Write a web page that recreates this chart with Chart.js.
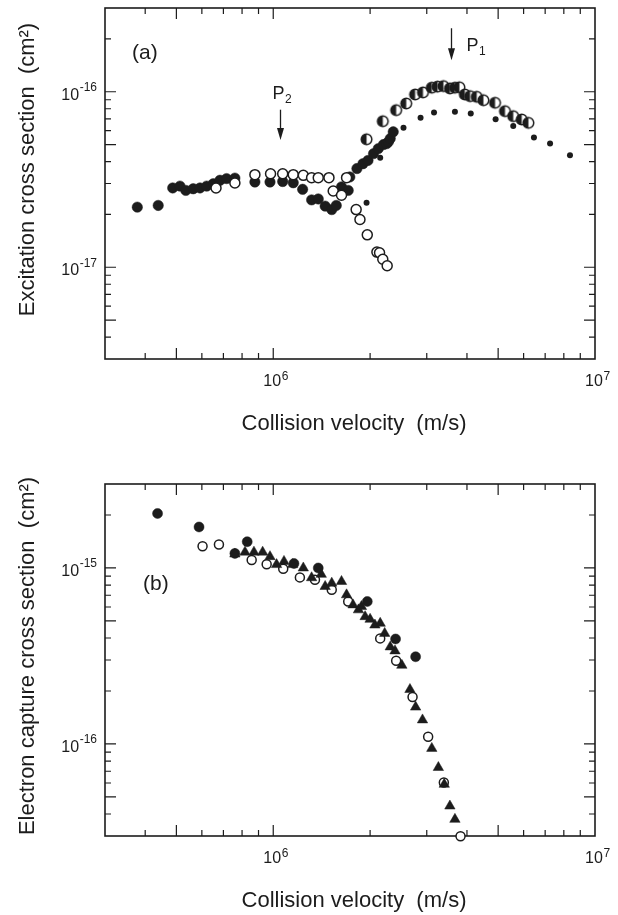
<!DOCTYPE html>
<html>
<head>
<meta charset="utf-8">
<script src="https://cdn.jsdelivr.net/npm/chart.js@4.4.1/dist/chart.umd.min.js"></script>
<style>
  html, body { margin: 0; padding: 0; background: #fff; }
  #wrap { position: relative; width: 618px; height: 915px; }
  .panel { position: absolute; left: 0; }
</style>
</head>
<body>
<div id="wrap">
  <div class="panel" style="top:0"><canvas id="chartA" width="618" height="450"></canvas></div>
  <div class="panel" style="top:450px"><canvas id="chartB" width="618" height="465"></canvas></div>
</div>
<script>
// panel (a): excitation cross section vs collision velocity
var velAFilled = [3.78e5, 4.39e5, 4.87e5, 5.13e5, 5.35e5, 5.64e5, 5.92e5, 6.21e5, 6.51e5, 6.83e5, 7.16e5, 7.60e5,
  8.77e5, 9.77e5, 1.07e6, 1.154e6, 1.234e6, 1.316e6, 1.38e6, 1.45e6, 1.52e6, 1.57e6, 1.63e6, 1.71e6, 1.73e6,
  1.82e6, 1.90e6, 1.97e6, 2.05e6, 2.12e6, 2.20e6, 2.25e6, 2.28e6, 2.31e6, 2.36e6];
var sigAFilled = [2.20e-17, 2.25e-17, 2.83e-17, 2.90e-17, 2.74e-17, 2.80e-17, 2.83e-17, 2.90e-17, 2.99e-17, 3.13e-17, 3.20e-17, 3.22e-17,
  3.06e-17, 3.06e-17, 3.08e-17, 3.03e-17, 2.78e-17, 2.42e-17, 2.45e-17, 2.23e-17, 2.13e-17, 2.25e-17, 2.87e-17, 2.74e-17, 3.27e-17,
  3.65e-17, 3.89e-17, 4.06e-17, 4.44e-17, 4.74e-17, 5.00e-17, 5.06e-17, 5.18e-17, 5.41e-17, 5.91e-17];

var velAOpen = [6.64e5, 7.60e5, 8.77e5, 9.81e5, 1.07e6, 1.154e6, 1.24e6, 1.316e6, 1.38e6, 1.49e6, 1.536e6, 1.63e6,
  1.69e6, 1.81e6, 1.86e6, 1.96e6, 2.10e6, 2.14e6, 2.19e6, 2.26e6];
var sigAOpen = [2.83e-17, 3.02e-17, 3.37e-17, 3.41e-17, 3.41e-17, 3.37e-17, 3.34e-17, 3.24e-17, 3.24e-17, 3.24e-17, 2.72e-17, 2.57e-17,
  3.24e-17, 2.13e-17, 1.87e-17, 1.53e-17, 1.22e-17, 1.21e-17, 1.11e-17, 1.02e-17];

var velAHalf = [1.95e6, 2.19e6, 2.41e6, 2.59e6, 2.76e6, 2.92e6, 3.11e6, 3.24e6, 3.38e6, 3.54e6, 3.67e6, 3.79e6,
  3.94e6, 4.09e6, 4.29e6, 4.50e6, 4.89e6, 5.25e6, 5.57e6, 5.92e6, 6.21e6];
var sigAHalf = [5.36e-17, 6.79e-17, 7.85e-17, 8.57e-17, 9.65e-17, 9.91e-17, 1.055e-16, 1.07e-16, 1.077e-16, 1.045e-16, 1.055e-16, 1.06e-16,
  9.65e-17, 9.44e-17, 9.36e-17, 8.95e-17, 8.65e-17, 7.75e-17, 7.26e-17, 6.95e-17, 6.65e-17];

var velADot = [1.95e6, 2.15e6, 2.54e6, 2.87e6, 3.16e6, 3.67e6, 4.11e6, 4.91e6, 5.57e6, 6.46e6, 7.25e6, 8.36e6];
var sigADot = [2.33e-17, 4.20e-17, 6.23e-17, 7.10e-17, 7.62e-17, 7.69e-17, 7.52e-17, 6.97e-17, 6.37e-17, 5.48e-17, 5.07e-17, 4.35e-17];

// peak markers P2 and P1 (arrows)
var peakNames = ['2', '1'];
var peakVel = [1.05e6, 3.58e6];
var peakTop = [7.9e-17, 2.3e-16];
var peakTip = [5.3e-17, 1.51e-16];

// panel (b): electron capture cross section
var velBFilled = [4.37e5, 5.88e5, 7.60e5, 8.30e5, 1.16e6, 1.38e6, 1.96e6, 2.40e6, 2.77e6];
var sigBFilled = [2.04e-15, 1.71e-15, 1.21e-15, 1.41e-15, 1.06e-15, 1.00e-15, 6.45e-16, 3.95e-16, 3.13e-16];

var velBOpen = [6.03e5, 6.78e5, 8.57e5, 9.54e5, 1.074e6, 1.21e6, 1.348e6, 1.52e6, 1.71e6, 2.15e6, 2.41e6, 2.71e6,
  3.03e6, 3.39e6, 3.82e6];
var sigBOpen = [1.33e-15, 1.36e-15, 1.11e-15, 1.05e-15, 9.9e-16, 8.84e-16, 8.57e-16, 7.52e-16, 6.45e-16, 3.98e-16, 2.97e-16, 1.85e-16,
  1.10e-16, 6.04e-17, 2.99e-17];

var velBTri = [7.60e5, 8.17e5, 8.71e5, 9.27e5, 9.77e5, 1.024e6, 1.08e6, 1.149e6, 1.24e6, 1.316e6, 1.41e6, 1.45e6,
  1.52e6, 1.63e6, 1.69e6, 1.77e6, 1.84e6, 1.88e6, 1.93e6, 2.00e6, 2.07e6, 2.15e6, 2.22e6, 2.31e6, 2.39e6,
  2.51e6, 2.66e6, 2.77e6, 2.91e6, 3.11e6, 3.26e6, 3.40e6, 3.54e6, 3.67e6];
var sigBTri = [1.20e-15, 1.23e-15, 1.23e-15, 1.23e-15, 1.16e-15, 1.045e-15, 1.09e-15, 1.045e-15, 1.00e-15, 8.8e-16, 9.2e-16, 7.85e-16,
  8.2e-16, 8.38e-16, 7.04e-16, 6.17e-16, 5.78e-16, 6.04e-16, 5.29e-16, 5.11e-16, 4.74e-16, 4.85e-16, 4.25e-16, 3.56e-16, 3.38e-16,
  2.80e-16, 2.04e-16, 1.62e-16, 1.37e-16, 9.44e-17, 7.35e-17, 5.90e-17, 4.44e-17, 3.73e-17];

// axes
var xRange = [3e5, 1e7];
var xTicks = [4e5, 5e5, 6e5, 7e5, 8e5, 9e5, 1e6, 2e6, 3e6, 4e6, 5e6, 6e6, 7e6, 8e6, 9e6];
var xLabels = [1e6, 1e7];
var yRangeA = [3e-18, 3e-16];
var yTicksA = [4e-18, 5e-18, 6e-18, 7e-18, 8e-18, 9e-18, 1e-17, 2e-17, 3e-17, 4e-17, 5e-17, 6e-17, 7e-17, 8e-17, 9e-17, 1e-16, 2e-16];
var yLabelsA = [1e-17, 1e-16];
var yRangeB = [3e-17, 3e-15];
var yTicksB = [4e-17, 5e-17, 6e-17, 7e-17, 8e-17, 9e-17, 1e-16, 2e-16, 3e-16, 4e-16, 5e-16, 6e-16, 7e-16, 8e-16, 9e-16, 1e-15, 2e-15];
var yLabelsB = [1e-16, 1e-15];

var FONT = '"Liberation Sans", Arial, Helvetica, sans-serif';
var INK = '#1c1c1c';

function pts(xs, ys) {
  return xs.map(function (v, i) { return { x: v, y: ys[i] }; });
}

function expOf(v) {
  return Math.floor(Math.log10(v) + 1e-9);
}

function tickLen(v) {
  var m = Math.round(v / Math.pow(10, expOf(v)));
  return (m === 1 || m === 5) ? 11 : 6;
}

function halfCircle(r) {
  var c = document.createElement('canvas');
  var s = Math.ceil(r * 2 + 4);
  c.width = s;
  c.height = s;
  var g = c.getContext('2d'), m = s / 2;
  g.fillStyle = '#fff';
  g.beginPath(); g.arc(m, m, r, 0, Math.PI * 2); g.fill();
  g.fillStyle = INK;
  g.beginPath(); g.arc(m, m, r, Math.PI / 2, Math.PI * 1.5); g.closePath(); g.fill();
  g.lineWidth = 1.5;
  g.strokeStyle = INK;
  g.beginPath(); g.arc(m, m, r, 0, Math.PI * 2); g.stroke();
  return c;
}

// "10" with a raised exponent
function powLabel(ctx, x, y, v, axis) {
  var e = String(expOf(v));
  ctx.font = '16px ' + FONT;
  var w10 = ctx.measureText('10').width;
  ctx.font = '12px ' + FONT;
  var wE = ctx.measureText(e).width;
  var left, base;
  if (axis === 'x') {
    left = x - 1 - w10 / 2;
    base = y;
    ctx.font = '16px ' + FONT;
    ctx.fillText('10', left, base);
    ctx.font = '12px ' + FONT;
    ctx.fillText(e, left + w10 + 0.5, base - 6);
  } else {
    left = x - wE - 0.5 - w10;
    ctx.font = '16px ' + FONT;
    ctx.fillText('10', left, y + 8);
    ctx.font = '12px ' + FONT;
    ctx.fillText(e, left + w10 + 0.5, y - 0.5);
  }
}

function frameRect(ctx, a) {
  ctx.lineWidth = 1.6;
  ctx.strokeRect(a.left, a.top, a.right - a.left, a.bottom - a.top);
}

function axesPlugin(cfg) {
  return {
    id: 'axesFrame',
    beforeDatasetsDraw: function (chart) {
      var ctx = chart.ctx, a = chart.chartArea;
      var xs = chart.scales.x, ys = chart.scales.y;
      ctx.save();
      ctx.strokeStyle = INK;
      frameRect(ctx, a);
      ctx.lineWidth = 1.2;
      ctx.beginPath();
      xTicks.forEach(function (v) {
        var px = xs.getPixelForValue(v), len = tickLen(v);
        ctx.moveTo(px, a.bottom); ctx.lineTo(px, a.bottom - len);
        ctx.moveTo(px, a.top); ctx.lineTo(px, a.top + len);
      });
      cfg.yTicks.forEach(function (v) {
        var py = ys.getPixelForValue(v), len = tickLen(v);
        ctx.moveTo(a.left, py); ctx.lineTo(a.left + len, py);
        ctx.moveTo(a.right, py); ctx.lineTo(a.right - len, py);
      });
      ctx.stroke();

      ctx.fillStyle = INK;
      ctx.textBaseline = 'alphabetic';
      ctx.textAlign = 'left';
      xLabels.forEach(function (v) {
        powLabel(ctx, xs.getPixelForValue(v), a.bottom + 27, v, 'x');
      });
      cfg.yLabels.forEach(function (v) {
        powLabel(ctx, a.left - 8, ys.getPixelForValue(v), v, 'y');
      });

      // axis titles
      ctx.font = '22px ' + FONT;
      ctx.textAlign = 'center';
      ctx.textBaseline = 'middle';
      ctx.fillText('Collision velocity  (m/s)', (a.left + a.right) / 2 + 4, a.bottom + 65);
      ctx.save();
      ctx.translate(28, (a.top + a.bottom) / 2 + cfg.yShift);
      ctx.rotate(-Math.PI / 2);
      ctx.fillText(cfg.yTitle, 0, 0);
      ctx.restore();

      ctx.font = '21px ' + FONT;
      ctx.textAlign = 'left';
      ctx.fillText(cfg.tag, a.left + cfg.tagDx, a.top + cfg.tagDy);
      ctx.restore();
    },
    afterDatasetsDraw: function (chart) {
      if (!cfg.peaks) return;
      var ctx = chart.ctx, xs = chart.scales.x, ys = chart.scales.y;
      ctx.save();
      ctx.strokeStyle = INK;
      ctx.fillStyle = INK;
      peakVel.forEach(function (v, i) {
        var px = Math.round(xs.getPixelForValue(v)) + 0.5;
        var y0 = ys.getPixelForValue(peakTop[i]);
        var y1 = ys.getPixelForValue(peakTip[i]);
        ctx.lineWidth = 1.3;
        ctx.beginPath();
        ctx.moveTo(px, y0); ctx.lineTo(px, y1 - 10);
        ctx.stroke();
        ctx.beginPath();
        ctx.moveTo(px - 3.5, y1 - 12); ctx.lineTo(px + 3.5, y1 - 12); ctx.lineTo(px, y1);
        ctx.closePath();
        ctx.fill();
        // label: P2 above its arrow, P1 to the right
        var lx, ly;
        if (i === 0) { lx = px - 8; ly = y0 - 11; } else { lx = px + 15; ly = y0 + 23; }
        ctx.textAlign = 'left';
        ctx.textBaseline = 'alphabetic';
        ctx.font = '18px ' + FONT;
        ctx.fillText('P', lx, ly);
        var wp = ctx.measureText('P').width;
        ctx.font = '12px ' + FONT;
        ctx.fillText(peakNames[i], lx + wp + 0.5, ly + 4);
      });
      ctx.restore();
    }
  };
}

function baseOptions(yRange, pad) {
  return {
    responsive: false,
    animation: false,
    events: [],
    layout: { padding: pad },
    scales: {
      x: { type: 'logarithmic', min: xRange[0], max: xRange[1], display: false },
      y: { type: 'logarithmic', min: yRange[0], max: yRange[1], display: false }
    },
    plugins: { legend: { display: false }, tooltip: { enabled: false } }
  };
}

new Chart(document.getElementById('chartA'), {
  type: 'scatter',
  data: {
    datasets: [
      { data: pts(velAHalf, sigAHalf), pointStyle: halfCircle(5.3), pointRadius: 5, clip: false },
      { data: pts(velAOpen, sigAOpen), pointRadius: 5, backgroundColor: '#fff', borderColor: INK, borderWidth: 1.5, clip: false },
      { data: pts(velADot, sigADot), pointRadius: 3, backgroundColor: INK, borderColor: INK, borderWidth: 0, clip: false },
      { data: pts(velAFilled, sigAFilled), pointRadius: 5.2, backgroundColor: INK, borderColor: INK, borderWidth: 0.5, clip: false }
    ]
  },
  options: baseOptions(yRangeA, { left: 105, right: 23, top: 8, bottom: 91 }),
  plugins: [axesPlugin({ yTicks: yTicksA, yLabels: yLabelsA, yTitle: 'Excitation cross section  (cm\u00b2)',
    yShift: -14, tag: '(a)', tagDx: 27, tagDy: 45, peaks: true })]
});

new Chart(document.getElementById('chartB'), {
  type: 'scatter',
  data: {
    datasets: [
      { data: pts(velBTri, sigBTri), pointStyle: 'triangle', pointRadius: 6, backgroundColor: INK, borderColor: INK, borderWidth: 0.5, clip: false },
      { data: pts(velBFilled, sigBFilled), pointRadius: 5, backgroundColor: INK, borderColor: INK, borderWidth: 0.5, clip: false },
      { data: pts(velBOpen, sigBOpen), pointRadius: 4.5, backgroundColor: '#fff', borderColor: INK, borderWidth: 1.5, clip: false }
    ]
  },
  options: baseOptions(yRangeB, { left: 105, right: 23, top: 34, bottom: 79 }),
  plugins: [axesPlugin({ yTicks: yTicksB, yLabels: yLabelsB, yTitle: 'Electron capture cross section  (cm\u00b2)',
    yShift: -4, tag: '(b)', tagDx: 38, tagDy: 100, peaks: false })]
});
</script>
</body>
</html>
